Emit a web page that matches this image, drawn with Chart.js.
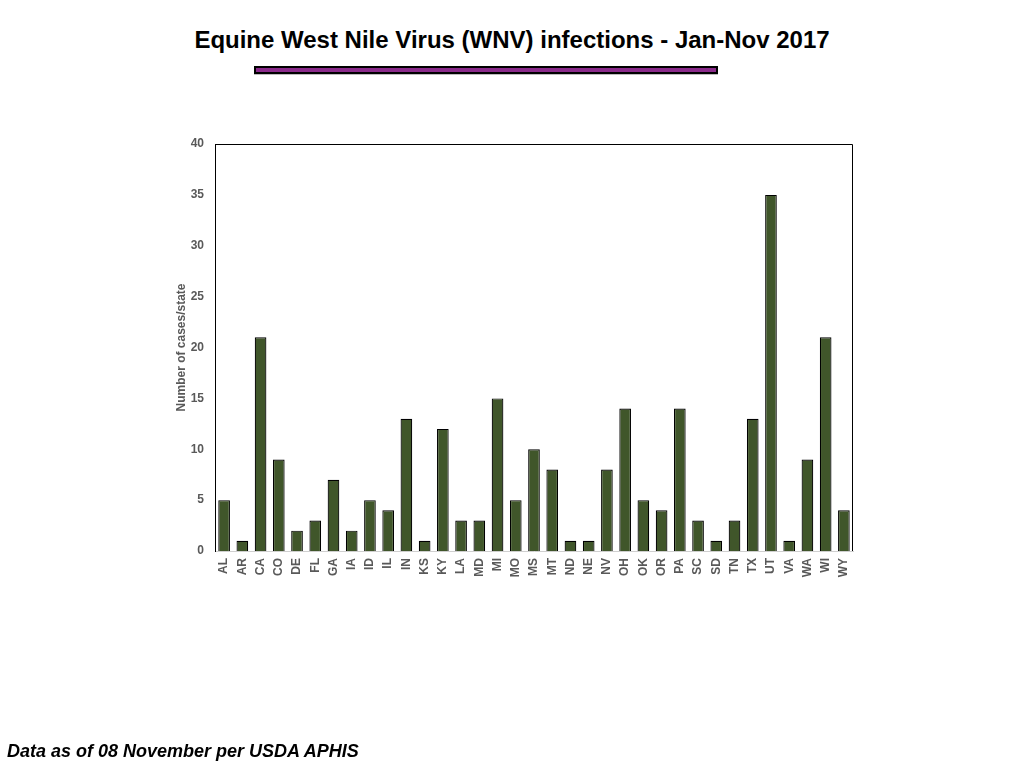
<!DOCTYPE html>
<html>
<head>
<meta charset="utf-8">
<script src="https://cdn.jsdelivr.net/npm/chart.js@4"></script>
<style>
  html, body { margin: 0; padding: 0; background: #ffffff; }
  body { width: 1024px; height: 768px; position: relative; overflow: hidden; font-family: "Liberation Sans", Arial, sans-serif; }
  #title { position: absolute; left: 0; width: 1024px; top: 26px; text-align: center; font-weight: bold; font-size: 24px; color: #000; }
  #rule { position: absolute; left: 254px; top: 66px; width: 460px; height: 4px; background: #8a2a8a; border: 2px solid #000; box-shadow: 0 1px 0 #bbb; }
  #foot { position: absolute; left: 7px; top: 741px; font-weight: bold; font-style: italic; font-size: 18px; color: #000; }
  #wrap { position: absolute; left: 0; top: 0; width: 1024px; height: 768px; }
</style>
</head>
<body>
<div id="title">Equine West Nile Virus (WNV) infections - Jan-Nov 2017</div>
<div id="rule"></div>
<div id="wrap"><canvas id="c" width="1024" height="768"></canvas></div>
<div id="foot">Data as of 08 November per USDA APHIS</div>
<script>
const states = ["AL","AR","CA","CO","DE","FL","GA","IA","ID","IL","IN","KS","KY","LA","MD","MI","MO","MS","MT","ND","NE","NV","OH","OK","OR","PA","SC","SD","TN","TX","UT","VA","WA","WI","WY"];
const cases = [5,1,21,9,2,3,7,2,5,4,13,1,12,3,3,15,5,10,8,1,1,8,14,5,4,14,3,1,3,13,35,1,9,21,4];
const yTicks = [0,5,10,15,20,25,30,35,40];
const yTitle = "Number of cases/state";

const frame = {
  id: 'frame',
  afterDraw(chart) {
    const a = chart.chartArea, ctx = chart.ctx;
    ctx.save();
    ctx.strokeStyle = '#000';
    ctx.lineWidth = 1;
    ctx.beginPath();
    ctx.moveTo(a.left + 0.5, a.bottom);
    ctx.lineTo(a.left + 0.5, a.top + 0.5);
    ctx.lineTo(a.right - 0.5, a.top + 0.5);
    ctx.lineTo(a.right - 0.5, a.bottom);
    ctx.stroke();
    ctx.restore();
  }
};

const tickFont = { family: '"Liberation Sans", Arial, sans-serif', size: 12, weight: 'bold' };

new Chart(document.getElementById('c'), {
  type: 'bar',
  data: {
    labels: states,
    datasets: [{
      data: cases,
      backgroundColor: '#40562a',
      borderColor: '#000000',
      borderWidth: 1.2,
      barPercentage: 0.64,
      categoryPercentage: 1.0
    }]
  },
  options: {
    responsive: false,
    animation: false,
    devicePixelRatio: 1,
    layout: { padding: { left: 170, right: 171, top: 144, bottom: 177 } },
    plugins: { legend: { display: false }, tooltip: { enabled: false }, title: { display: false } },
    scales: {
      x: {
        grid: { display: false, drawTicks: false },
        border: { display: true, color: '#cfcfcf', width: 1 },
        ticks: {
          color: '#595959',
          font: tickFont,
          minRotation: 90, maxRotation: 90, padding: 7, autoSkip: false
        },
        afterFit(s) { s.height = 40; }
      },
      y: {
        min: 0, max: 40,
        afterBuildTicks(s) { s.ticks = yTicks.map(v => ({ value: v })); },
        grid: { display: false, drawTicks: false },
        border: { display: true, color: '#000', width: 1 },
        ticks: {
          color: '#595959',
          font: tickFont,
          padding: 11
        },
        title: {
          display: true, text: yTitle, color: '#595959',
          font: tickFont,
          padding: { top: 4, bottom: 0 }
        },
        afterFit(s) { s.width = 45; }
      }
    }
  },
  plugins: [frame]
});
</script>
</body>
</html>
